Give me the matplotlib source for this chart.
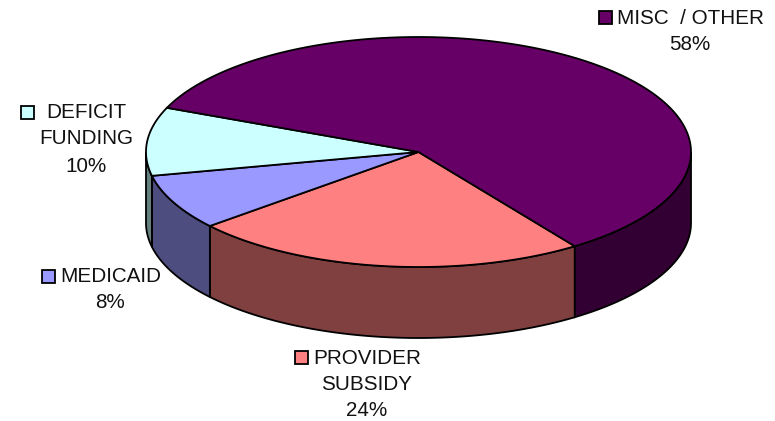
#!/usr/bin/env python3
import numpy as np
import matplotlib
matplotlib.use('Agg')
import matplotlib.pyplot as plt
from matplotlib.patches import Polygon, Rectangle

plt.rcParams['font.family'] = ['Liberation Sans', 'DejaVu Sans']

# slices, clockwise from the lower right; shares are measured off the drawn disc,
# the printed percentages are rounded differently in the source chart
names = ['PROVIDER', 'MEDICAID', 'DEFICIT', 'MISC']
shares = [23.6, 7.8, 9.6, 59.0]
printed = ['24%', '8%', '10%', '58%']
tops = ['#FF8080', '#9999FF', '#CCFFFF', '#660066']
sides = ['#804040', '#4D4D80', '#668080', '#330033']

# pixel geometry of the tilted disc
cx, cy = 418.5, 152
rx, ry = 272.5, 115
depth = 71
start = -55

fig = plt.figure(figsize=(7.75, 4.21), dpi=100)
ax = fig.add_axes([0, 0, 1, 1])
ax.set_xlim(0, 775)
ax.set_ylim(421, 0)
ax.axis('off')


def rim(t1, t2, n=80):
    t = np.radians(np.linspace(t1, t2, n))
    return cx + rx * np.cos(t), cy - ry * np.sin(t)


edges = start - np.cumsum([0] + shares) * 3.6

# walls first, only the front half of the disc shows
for i in range(len(shares)):
    hi, lo = edges[i], edges[i + 1]
    for shift in (0, 360):
        a = min(hi + shift, 0)
        b = max(lo + shift, -180)
        if a <= b:
            continue
        x, y = rim(a, b)
        pts = np.r_[np.c_[x, y], np.c_[x[::-1], y[::-1] + depth]]
        ax.add_patch(Polygon(pts, closed=True, fc=sides[i], ec='black', lw=1.3, zorder=2))

for i in range(len(shares)):
    x, y = rim(edges[i], edges[i + 1], 200)
    pts = np.r_[[[cx, cy]], np.c_[x, y]]
    ax.add_patch(Polygon(pts, closed=True, fc=tops[i], ec='black', lw=1.3, zorder=3))

# labels
fs = 14.9
tc = '#111111'
ax.text(617, 18, 'MISC  / OTHER', fontsize=fs, ha='left', va='center', color=tc)
ax.text(690, 45, printed[3], fontsize=fs, ha='center', va='center', color=tc)
ax.text(86, 112, 'DEFICIT', fontsize=fs, ha='center', va='center', color=tc)
ax.text(86, 139, 'FUNDING', fontsize=fs, ha='center', va='center', color=tc)
ax.text(86, 166, printed[2], fontsize=fs, ha='center', va='center', color=tc)
ax.text(60, 277, 'MEDICAID', fontsize=fs, ha='left', va='center', color=tc)
ax.text(110, 303, printed[1], fontsize=fs, ha='center', va='center', color=tc)
ax.text(313, 358, 'PROVIDER', fontsize=fs, ha='left', va='center', color=tc)
ax.text(367, 385, 'SUBSIDY', fontsize=fs, ha='center', va='center', color=tc)
ax.text(367, 411, printed[0], fontsize=fs, ha='center', va='center', color=tc)

# legend keys beside the labels
for (kx, ky), c in zip([(295, 351), (42, 270), (21, 106), (599, 11)], tops):
    ax.add_patch(Rectangle((kx, ky), 13, 13, fc=c, ec='black', lw=1.3, zorder=4))

fig.savefig('out.png', dpi=100)
